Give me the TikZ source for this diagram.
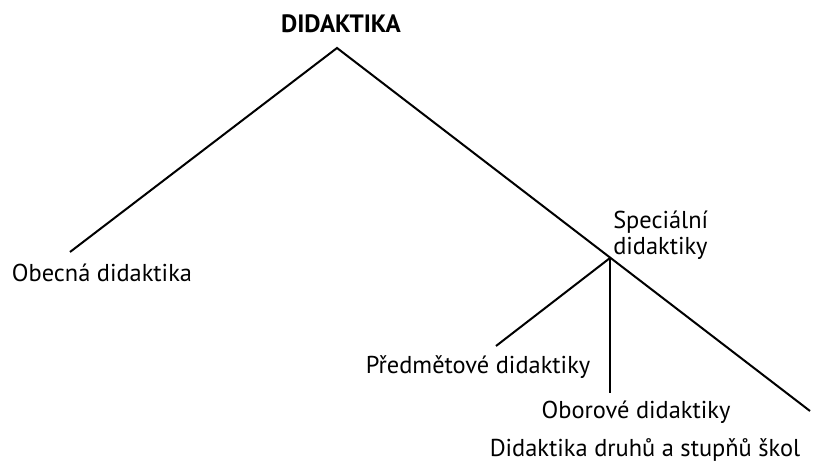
\documentclass[tikz,border=0pt]{standalone}
\usepackage{fontspec}
\setmainfont{PT Sans}
\tikzset{
	label text/.style = {font=\fontsize{18.3}{19.5}\selectfont, inner sep=0pt},
	branch line/.style = {line width=1.5pt}
}
\begin{document}
\begin{tikzpicture}[x=0.75pt, y=-0.75pt]
		\useasboundingbox (0,0) rectangle (813,463);
		
		\node[label text, font=\fontsize{18.8}{19.5}\selectfont\bfseries] (didaktika) at (341,24) {DIDAKTIKA};
		
		\coordinate (apex) at (337,48);
		\coordinate (obecnaEnd) at (70,252);
		\coordinate (specialniEnd) at (810,411);
		\coordinate (branch) at (610,258);
		\coordinate (predmetoveEnd) at (496,346);
		\coordinate (oboroveEnd) at (610,393);
		
		\draw[branch line] (obecnaEnd) -- (apex) -- (specialniEnd);
		
		\draw[branch line] (branch) -- (predmetoveEnd);
		
		\draw[branch line] (branch) -- (oboroveEnd);
		
		\node[label text] (obecna) at (102,273) {Obecná didaktika};
		
		\node[label text, anchor=west, align=left] (specialni) at (613,235) {Speciální\\didaktiky};
		
		\node[label text] (predmetove) at (478,367) {Předmětové didaktiky};
		
		\node[label text] (oborove) at (636,412) {Oborové didaktiky};
		
		\node[label text] (druhu) at (645,450) {Didaktika druhů a stupňů škol};
		
	\end{tikzpicture}
\end{document}
